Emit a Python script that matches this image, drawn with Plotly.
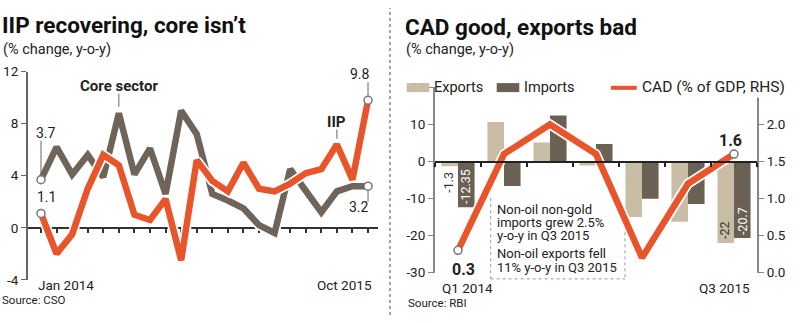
import plotly.graph_objects as go

# ---------------- data ----------------
months = ["Jan 2014", "Feb 2014", "Mar 2014", "Apr 2014", "May 2014", "Jun 2014",
          "Jul 2014", "Aug 2014", "Sep 2014", "Oct 2014", "Nov 2014", "Dec 2014",
          "Jan 2015", "Feb 2015", "Mar 2015", "Apr 2015", "May 2015", "Jun 2015",
          "Jul 2015", "Aug 2015", "Sep 2015", "Oct 2015"]
iip = [1.1, -2.0, -0.5, 3.0, 5.6, 4.8, 1.0, 0.6, 2.2, -2.5, 5.2, 3.6,
       2.8, 5.0, 3.0, 2.8, 3.4, 4.2, 4.5, 6.4, 3.7, 9.8]
core = [3.7, 6.2, 4.1, 5.6, 3.9, 8.8, 4.1, 6.1, 2.6, 9.0, 7.2, 2.6,
        2.1, 1.5, 0.2, -0.4, 4.5, 2.8, 1.2, 2.8, 3.2, 3.2]
left_tickvals = [-4, 0, 4, 8, 12]
left_ticktext = ["-4", "0", "4", "8", "12"]

quarters = ["Q1 2014", "Q2 2014", "Q3 2014", "Q4 2014", "Q1 2015", "Q2 2015", "Q3 2015"]
exports = [-1.3, 10.7, 5.1, -1.1, -15.0, -16.3, -22.0]
imports = [-12.35, -6.6, 12.4, 4.7, -10.1, -11.5, -20.7]
cad = [0.3, 1.6, 2.0, 1.6, 0.2, 1.2, 1.6]
pct_tickvals = [-30, -20, -10, 0, 10, 20]
pct_ticktext = ["-30", "-20", "-10", "0", "10", "20"]
cad_tickvals = [0, 0.5, 1.0, 1.5, 2.0, 2.5]
cad_ticktext = ["0.0", "0.5", "1.0", "1.5", "2.0", "2.5"]

# ---------------- style ----------------
W, H = 800, 323
FONT = "Roboto, sans-serif"
ORANGE = "#E8552A"
GREY = "#6E645A"
EXP_C = "#C9BEA5"
IMP_C = "#6B6054"
TXT = "#222222"


def px(x):
    return x / W


def py(y):
    return 1 - y / H


fig = go.Figure()

# left chart lines
for ys, col in [(core, GREY), (iip, ORANGE)]:
    fig.add_trace(go.Scatter(x=months, y=ys, mode="lines", xaxis="x", yaxis="y",
                             line=dict(color="white", width=10), hoverinfo="skip"))
    fig.add_trace(go.Scatter(x=months, y=ys, mode="lines", xaxis="x", yaxis="y",
                             line=dict(color=col, width=6.5), hoverinfo="skip"))
fig.add_trace(go.Scatter(x=[months[0], months[-1], months[0], months[-1]],
                         y=[core[0], core[-1], iip[0], iip[-1]], mode="markers",
                         xaxis="x", yaxis="y",
                         marker=dict(size=8, color="white", line=dict(color="#777", width=1.5))))

# right chart bars
fig.add_trace(go.Bar(x=quarters, y=exports, xaxis="x2", yaxis="y2", marker_color=EXP_C,
                     marker_line_width=0, name="Exports"))
fig.add_trace(go.Bar(x=quarters, y=imports, xaxis="x2", yaxis="y2", marker_color=IMP_C,
                     marker_line_width=0, name="Imports"))
fig.add_trace(go.Scatter(x=quarters, y=cad, mode="lines", xaxis="x2", yaxis="y3",
                         line=dict(color="white", width=10), hoverinfo="skip"))
fig.add_trace(go.Scatter(x=quarters, y=cad, mode="lines", xaxis="x2", yaxis="y3",
                         line=dict(color=ORANGE, width=6.5), hoverinfo="skip"))
fig.add_trace(go.Scatter(x=[quarters[0], quarters[-1]], y=[cad[0], cad[-1]], mode="markers",
                         xaxis="x2", yaxis="y3",
                         marker=dict(size=8, color="white", line=dict(color="#777", width=1.5))))

axis_font = dict(family=FONT, size=13.5, color=TXT)

fig.update_layout(
    width=W, height=H, margin=dict(l=0, r=0, t=0, b=0),
    paper_bgcolor="white", plot_bgcolor="rgba(0,0,0,0)", showlegend=False,
    barmode="group", bargap=0.28, bargroupgap=0,
    font=dict(family=FONT, color=TXT),
    xaxis=dict(domain=[px(28), px(378)], type="category", categoryorder="array",
               categoryarray=months, range=[-0.835, 21.64], anchor="free",
               position=py(231), showline=True, linecolor="#333", linewidth=2,
               ticks="outside", ticklen=4, tickwidth=1.5, tickcolor="#333",
               showticklabels=False, showgrid=False, zeroline=False, layer="below traces"),
    yaxis=dict(domain=[py(286), py(67)], range=[-4, 12], anchor="x",
               tickvals=left_tickvals, ticktext=left_ticktext, tickfont=axis_font,
               showline=True, linecolor="#666", linewidth=2, ticks="outside",
               ticklen=5, tickcolor="#666", showgrid=False, zeroline=False),
    xaxis2=dict(domain=[px(435), px(757)], type="category", categoryorder="array",
                categoryarray=quarters, range=[-0.5, 6.5], anchor="free",
                position=py(161.7), showline=True, linecolor="#222", linewidth=2,
                tickson="boundaries", ticks="outside", ticklen=4, tickwidth=1.5,
                tickcolor="#222", showticklabels=False, showgrid=False, zeroline=False),
    yaxis2=dict(domain=[py(278.3), py(83.6)], range=[-30, 20], anchor="x2",
                tickvals=pct_tickvals, ticktext=pct_ticktext, tickfont=axis_font,
                showline=True, linecolor="#888", linewidth=2, ticks="outside",
                ticklen=5, tickcolor="#888", showgrid=False, zeroline=False),
    yaxis3=dict(overlaying="y2", side="right", anchor="x2", range=[0, 2.5],
                tickvals=cad_tickvals, ticktext=cad_ticktext, tickfont=axis_font,
                showline=True, linecolor="#888", linewidth=2, ticks="outside",
                ticklen=5, tickcolor="#888", showgrid=False, zeroline=False),
)

ann = []


def T(text, x, y, size=13, bold=False, xanchor="left", yanchor="middle", color=TXT, **kw):
    t = f"<b>{text}</b>" if bold else text
    d = dict(text=t, x=x, y=y, xref="paper", yref="paper", showarrow=False,
             xanchor=xanchor, yanchor=yanchor, font=dict(family=FONT, size=size, color=color))
    d.update(kw)
    ann.append(d)


# titles
T("IIP recovering, core isn’t", px(0), py(18), size=22.5, bold=True, color="#111")
T("(% change, y-o-y)", px(1), py(44), size=14.5)
T("CAD good, exports bad", px(403), py(20), size=22.5, bold=True, color="#111")
T("(% change, y-o-y)", px(404), py(44), size=14.5)

# x labels & sources
T("Jan 2014", px(36), py(291), size=13.5)
T("Oct 2015", px(374), py(291), size=13.5, xanchor="right")
T("Source: CSO", px(0), py(307), size=11.5)
T("Q1 2014", px(467), py(295), size=13.5, xanchor="center")
T("Q3 2015", px(724), py(295), size=13.5, xanchor="center")
T("Source: RBI", px(406), py(310), size=11.5)

# legend
T("Exports", px(432), py(84), size=14.5)
T("Imports", px(522), py(84), size=14.5)
T("CAD (% of GDP, RHS)", px(640), py(83), size=15.5, bgcolor="white", borderpad=1)

# annotation box text
for txt, yy in [("Non-oil non-gold", 211.7), ("imports grew 2.5%", 225.5), ("y-o-y in Q3 2015", 239),
                ("Non-oil exports fell", 258.3), ("11% y-o-y in Q3 2015", 273)]:
    T(txt, px(495), py(yy), size=13)


def D(text, x, y, xref, yref, size=13, bold=False, color=TXT, **kw):
    t = f"<b>{text}</b>" if bold else text
    d = dict(text=t, x=x, y=y, xref=xref, yref=yref, showarrow=False,
             font=dict(family=FONT, size=size, color=color))
    d.update(kw)
    ann.append(d)


# left chart labels
D("Core sector", months[5], core[5] + 2.1, "x", "y", size=15, bold=True)
D("IIP", months[19], iip[19] + 1.75, "x", "y", size=15, bold=True)
D(f"{core[0]}", months[0], core[0] + 3.6, "x", "y", size=14, xshift=5)
D(f"{iip[0]}", months[0], iip[0] + 1.3, "x", "y", size=14, xshift=5)
D(f"{iip[-1]}", months[-1], iip[-1] + 2.0, "x", "y", size=14, xshift=-8)
D(f"{core[-1]}", months[-1], core[-1] - 1.6, "x", "y", size=14, xshift=-9)

# right chart labels
D(f"{cad[0]}", quarters[0], cad[0], "x2", "y3", size=16, bold=True, yshift=-19, xshift=6)
D(f"{cad[-1]}", quarters[-1], cad[-1], "x2", "y3", size=16, bold=True, yshift=14, xshift=-4)
D(f"{exports[0]}", quarters[0], exports[0], "x2", "y2", size=12.5, textangle=-90,
  yanchor="top", yshift=-3, xshift=-9, color="#333")
D(f"{imports[0]}", quarters[0], 0, "x2", "y2", size=12.5, textangle=-90,
  yanchor="top", yshift=-5, xshift=8, color="white")
D(f"{exports[-1]:g}", quarters[-1], exports[-1], "x2", "y2", size=12.5, textangle=-90,
  yanchor="bottom", yshift=2, xshift=-9, color="#333")
D(f"{imports[-1]}", quarters[-1], imports[-1], "x2", "y2", size=12.5, textangle=-90,
  yanchor="bottom", yshift=1, xshift=8, color="white")

shapes = []
# divider
shapes.append(dict(type="line", xref="paper", yref="paper", x0=px(390), x1=px(390), y0=0, y1=1,
                   line=dict(color="#888", width=1.5, dash="dot")))
# leader lines
for xi, y0, y1 in [(5, core[5] + 0.5, core[5] + 1.5), (0, core[0] + 0.35, core[0] + 3.0),
                   (21, iip[21] + 0.35, iip[21] + 1.4), (19, iip[19] + 0.45, iip[19] + 1.15),
                   (21, core[21] - 0.35, core[21] - 1.2)]:
    shapes.append(dict(type="line", xref="x", yref="y", x0=xi, x1=xi, y0=y0, y1=y1,
                       line=dict(color="#666", width=1)))
# legend swatches
shapes.append(dict(type="rect", xref="paper", yref="paper", x0=px(406.7), x1=px(429.3),
                   y0=py(88.5), y1=py(79), fillcolor=EXP_C, line_width=0))
shapes.append(dict(type="rect", xref="paper", yref="paper", x0=px(496.7), x1=px(519.3),
                   y0=py(88.5), y1=py(79), fillcolor=IMP_C, line_width=0))
shapes.append(dict(type="line", xref="paper", yref="paper", x0=px(611), x1=px(636.7),
                   y0=py(84), y1=py(84), line=dict(color=ORANGE, width=4)))
# dotted callout box
dot = dict(color="#999", width=1, dash="dot")
shapes.append(dict(type="line", xref="paper", yref="paper", x0=px(490.7), x1=px(490.7),
                   y0=py(200), y1=py(285), line=dot))
shapes.append(dict(type="line", xref="paper", yref="paper", x0=px(490.7), x1=px(625),
                   y0=py(285), y1=py(285), line=dot))
shapes.append(dict(type="line", xref="paper", yref="paper", x0=px(625), x1=px(625),
                   y0=py(236), y1=py(285), line=dot))

fig.update_layout(annotations=ann, shapes=shapes)
fig.write_html("out.html")
